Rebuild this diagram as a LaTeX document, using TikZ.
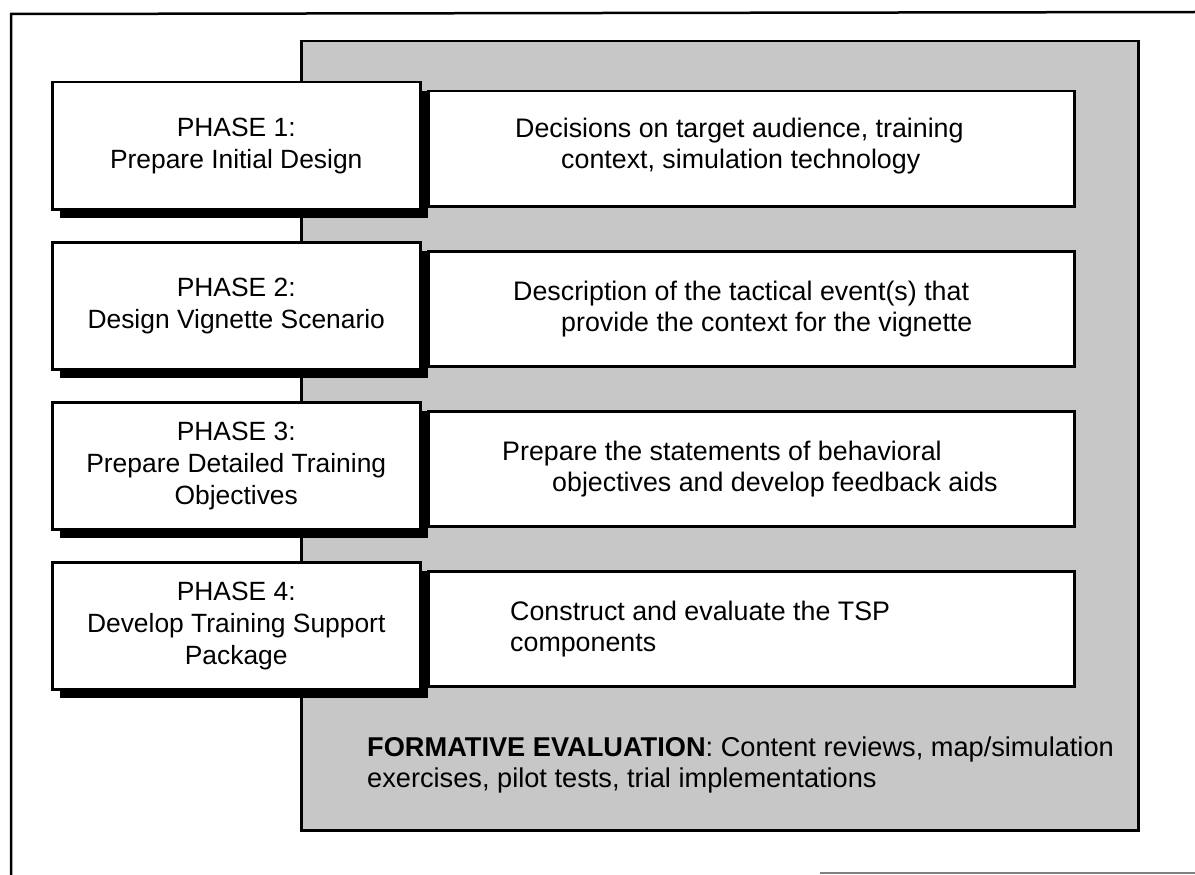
\documentclass[tikz,border=0pt]{standalone}
\usepackage{fontspec}
\setmainfont{Liberation Sans}
\usetikzlibrary{positioning,shadows}
\tikzset{
  phasebox/.style={draw,line width=2.5pt,fill=white,anchor=north west,
    minimum width=368pt,minimum height=127pt,align=center,
    font=\fontsize{26.4}{32}\selectfont,
    drop shadow={shadow xshift=8pt,shadow yshift=-9pt,fill=black,opacity=1}},
  descbox/.style={draw,line width=2.5pt,fill=white,anchor=north west,
    minimum width=646pt,minimum height=115pt},
  desctext/.style={align=left,inner sep=0pt,font=\fontsize{26.8}{31}\selectfont},
}
\begin{document}
\begin{tikzpicture}[x=1pt,y=-1pt]
    \useasboundingbox (0,0) rectangle (1195,875);
    % page frame
    \draw [line width=2.5pt] (1195,12)--(11,14)--(11,875);
    \draw [gray,line width=1.5pt] (820,873)--(1195,873);

    % shaded evaluation area
    \node (evalarea) [draw,line width=2.5pt,fill=black!22,anchor=north west,
      minimum width=837pt,minimum height=789pt] at (300,40) {};
    \node (evaltext) [desctext,anchor=west,font=\fontsize{27.2}{31}\selectfont] at (367,765)
      {\textbf{FORMATIVE EVALUATION}: Content reviews, map/simulation\\exercises, pilot tests, trial implementations};

    % outcome boxes
    \node (desc1) [descbox] at (427,90) {};
    \node (desc2) [descbox] at (427,250) {};
    \node (desc3) [descbox] at (427,410) {};
    \node (desc4) [descbox] at (427,570) {};

    \node (out1) [desctext,right=88pt of desc1.west,yshift=3pt] {Decisions on target audience, training\\\hspace*{46pt}context, simulation technology};
    \node (out2) [desctext,right=86pt of desc2.west] {Description of the tactical event(s) that\\\hspace*{48pt}provide the context for the vignette};
    \node (out3) [desctext,right=75pt of desc3.west] {Prepare the statements of behavioral\\\hspace*{50pt}objectives and develop feedback aids};
    \node (out4) [desctext,right=83pt of desc4.west] {Construct and evaluate the TSP\\components};

    % phases
    \node (phase1) [phasebox] at (51,81) {PHASE 1:\\Prepare Initial Design};
    \node (phase2) [phasebox] at (51,241) {PHASE 2:\\Design Vignette Scenario};
    \node (phase3) [phasebox] at (51,401) {PHASE 3:\\Prepare Detailed Training\\Objectives};
    \node (phase4) [phasebox] at (51,561) {PHASE 4:\\Develop Training Support\\Package};
\end{tikzpicture}
\end{document}
